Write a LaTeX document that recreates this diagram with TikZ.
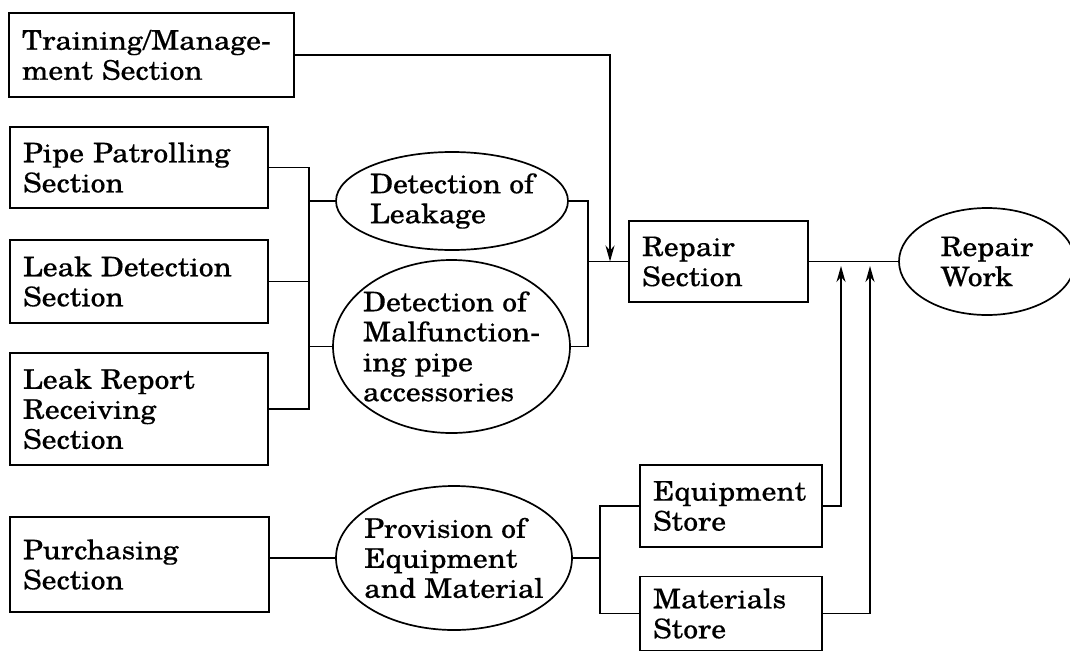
\documentclass[tikz,border=0pt]{standalone}
\usepackage{fontspec}
\setmainfont{TeX Gyre Schola}[FakeStretch=1.1,FakeBold=0.3]
\usetikzlibrary{shapes.geometric,arrows.meta}
\begin{document}
\begin{tikzpicture}[x=1pt,y=-1pt,
  font=\fontsize{27}{30}\selectfont,
  box/.style={draw, line width=1.8pt, rectangle, align=left, inner xsep=13pt, inner ysep=0pt},
  oval/.style={draw, line width=1.7pt, ellipse, align=left, inner sep=-30pt},
  link/.style={line width=1.7pt},
  arr/.style={link, -{Stealth[length=16pt,width=9pt,inset=5pt]}}]
\fill[white] (0,0) rectangle (1070,656);
\useasboundingbox (0,0) rectangle (1070,656);

% boxes
\node[box, text width=259pt, minimum height=84pt] (train) at (151.5,55) {Training/Manage-\\ment Section};
\node[box, text width=232pt, minimum height=81pt] (pipe) at (139,167.5) {Pipe Patrolling\\Section};
\node[box, text width=232pt, minimum height=83pt] (leakdet) at (139,281.5) {Leak Detection\\Section};
\node[box, text width=232pt, minimum height=112pt] (report) at (139,409) {Leak Report\\Receiving\\Section};
\node[box, text width=233pt, minimum height=95pt] (purch) at (139.5,564.5) {Purchasing\\Section};
\node[box, text width=153pt, minimum height=81pt] (repair) at (718.5,261.5) {Repair\\Section};
\node[box, text width=156pt, minimum height=82pt] (eq) at (731,506) {Equipment\\Store};
\node[box, text width=156pt, minimum height=74pt] (mat) at (731,613.5) {Materials\\Store};

% ellipses
\node[oval, minimum width=232pt, minimum height=98pt] (leak) at (452,201) {Detection of\\Leakage};
\node[oval, minimum width=237pt, minimum height=173pt] (malf) at (451.5,346.5) {Detection of\\Malfunction-\\ing pipe\\accessories};
\node[oval, minimum width=236pt, minimum height=144pt] (prov) at (454,558) {Provision of\\Equipment\\and Material};
\node[oval, minimum width=176pt, minimum height=107pt] (work) at (987,261.5) {Repair\\Work};

% helper coordinates
\coordinate (busL) at (309,0);
\coordinate (busR) at (588,0);
\coordinate (tdrop) at (610,0);
\coordinate (busS) at (600,0);
\coordinate (upA) at (841,266);
\coordinate (upB) at (870,266);

% connectors
\draw[link] (pipe.east) -- (pipe.east -| busL) -- (busL |- report.east) -- (report.east);
\draw[link] (leakdet.east) -- (leakdet.east -| busL);
\draw[link] (busL |- leak.west) -- (leak.west);
\draw[link] (busL |- malf.west) -- (malf.west);

\draw[link] (leak.east) -- (leak.east -| busR) -- (busR |- malf.east) -- (malf.east);
\draw[link] (busR |- repair.west) -- (repair.west);
\draw[arr] (train.east) -- (train.east -| tdrop) -- (tdrop |- repair.west);

\draw[link] (repair.east) -- (work.west);

\draw[link] (purch.east |- prov.west) -- (prov.west);
\draw[link] (prov.east) -- (prov.east -| busS);
\draw[link] (eq.west) -- (eq.west -| busS) -- (busS |- mat.west) -- (mat.west);

\draw[arr] (eq.east) -- (eq.east -| upA) -- (upA);
\draw[arr] (mat.east) -- (mat.east -| upB) -- (upB);
\end{tikzpicture}
\end{document}
